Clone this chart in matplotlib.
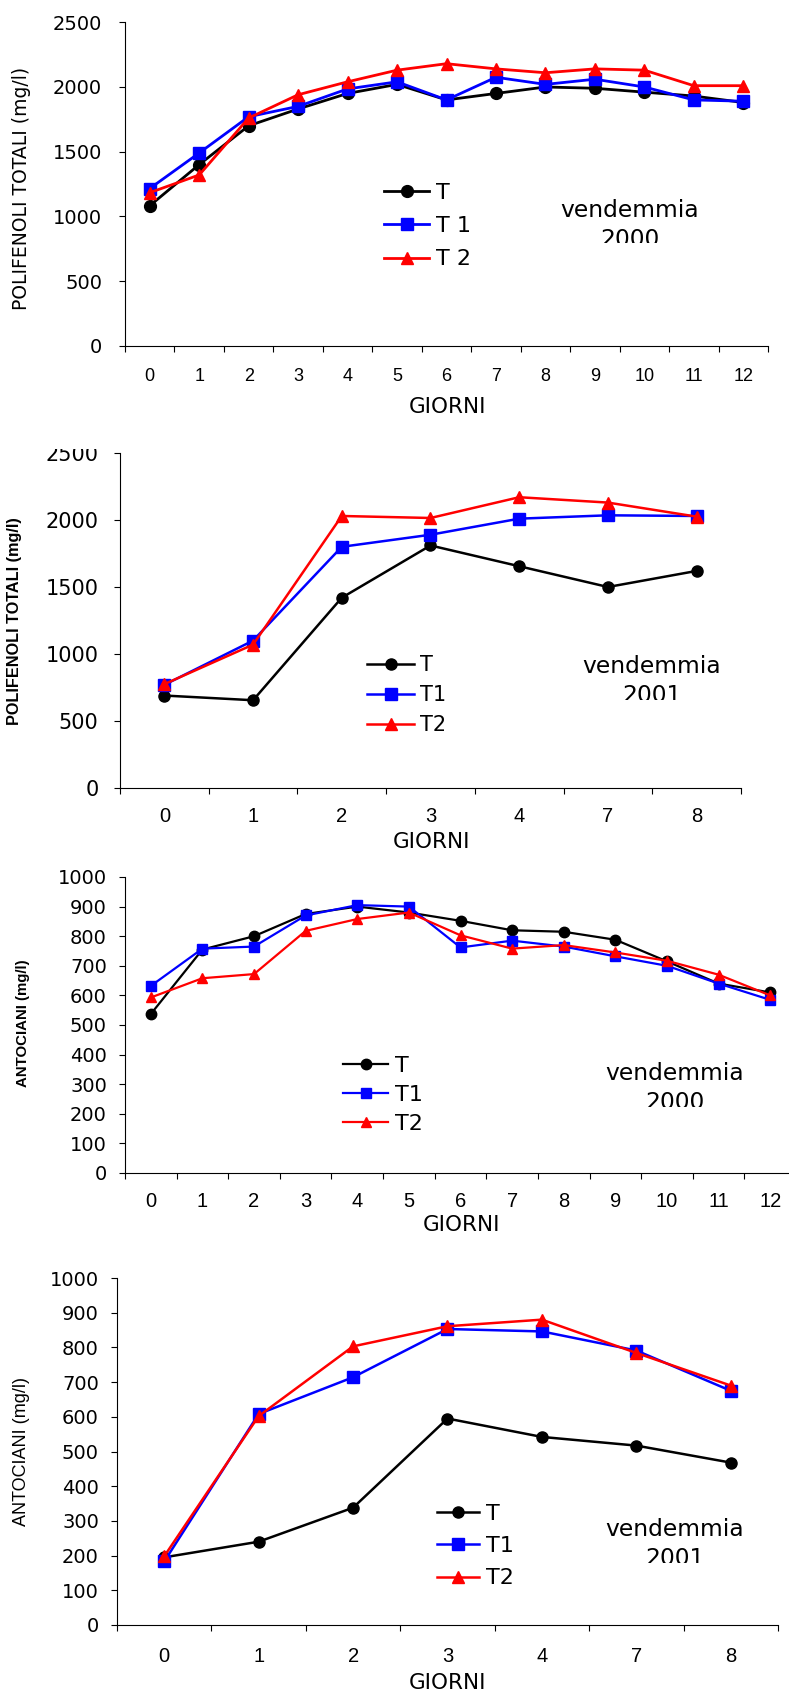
"""Polifenoli totali e antociani nelle vendemmie 2000 e 2001 (four stacked line charts)."""

import matplotlib

matplotlib.use("Agg")
import matplotlib.pyplot as plt
from matplotlib.patches import Rectangle
from matplotlib.transforms import Bbox, TransformedBbox

# ---------------------------------------------------------------- data
GIORNI_2000 = ["0", "1", "2", "3", "4", "5", "6", "7", "8", "9", "10", "11", "12"]
GIORNI_2001 = ["0", "1", "2", "3", "4", "7", "8"]

# polifenoli totali (mg/l), vendemmia 2000
POLI_2000_T = [1082, 1400, 1700, 1830, 1950, 2020, 1900, 1950, 2000, 1990, 1960, 1930, 1880]
POLI_2000_T1 = [1215, 1490, 1770, 1850, 1985, 2040, 1900, 2075, 2020, 2060, 2000, 1900, 1890]
POLI_2000_T2 = [1183, 1320, 1760, 1940, 2040, 2130, 2180, 2140, 2110, 2140, 2130, 2010, 2010]

# polifenoli totali (mg/l), vendemmia 2001
POLI_2001_T = [690, 655, 1420, 1810, 1655, 1500, 1620]
POLI_2001_T1 = [770, 1100, 1800, 1890, 2010, 2035, 2030]
POLI_2001_T2 = [775, 1070, 2030, 2015, 2170, 2130, 2025]

# antociani (mg/l), vendemmia 2000
ANTO_2000_T = [537, 755, 800, 875, 900, 880, 852, 820, 815, 788, 715, 640, 610]
ANTO_2000_T1 = [632, 758, 765, 870, 905, 900, 762, 785, 765, 732, 700, 640, 585]
ANTO_2000_T2 = [593, 658, 672, 818, 858, 880, 803, 758, 770, 745, 717, 670, 600]

# antociani (mg/l), vendemmia 2001
ANTO_2001_T = [195, 240, 338, 595, 542, 517, 468]
ANTO_2001_T1 = [183, 608, 714, 853, 846, 791, 675]
ANTO_2001_T2 = [198, 602, 803, 861, 880, 784, 690]

COLORS = ["#000000", "#0000ff", "#ff0000"]
MARKERS = ["o", "s", "^"]

FIG_W, FIG_H = 789, 1693


def fx(px):
    return px / FIG_W


def fy(py):
    return 1 - py / FIG_H


def draw_panel(fig, days, series, labels, ymax, ystep, ylabel, year, lay):
    """Draw one Excel-style category line chart at pixel position lay['box']."""
    left, top, right, bottom = lay["box"]
    ax = fig.add_axes([fx(left), fy(bottom), (right - left) / FIG_W, (bottom - top) / FIG_H])
    x = list(range(len(days)))
    for values, color, marker, label in zip(series, COLORS, MARKERS, labels):
        ax.plot(x, values, color=color, marker=marker, markersize=lay["ms"],
                linewidth=lay["lw"], label=label)

    ax.set_xlim(-0.5, len(days) - 0.5)
    ax.set_ylim(0, ymax)
    ax.set_xticks(x)
    ax.set_xticklabels(days, family="Liberation Sans", fontsize=lay["xsize"])
    ax.set_xticks([i - 0.5 for i in range(len(days) + 1)], minor=True)
    ax.tick_params(axis="x", which="major", length=0, pad=lay["xpad"])
    ax.tick_params(axis="x", which="minor", length=4, width=0.8, direction="out")
    ax.set_yticks(list(range(0, ymax + 1, ystep)))
    ax.tick_params(axis="y", length=4.5, width=0.8, direction="out",
                   pad=lay["ypad"], labelsize=lay["ytsize"])
    for s in ("top", "right"):
        ax.spines[s].set_visible(False)
    for s in ("left", "bottom"):
        ax.spines[s].set_linewidth(0.8)

    lx, ly = lay["legend"]
    ax.legend(loc="center left", bbox_to_anchor=(fx(lx), fy(ly)),
              bbox_transform=fig.transFigure, frameon=False,
              prop={"family": "DejaVu Sans", "size": lay["lsize"]},
              handlelength=lay["hlen"], handletextpad=0.3,
              labelspacing=lay["lspace"], borderpad=0, borderaxespad=0)

    # "vendemmia / anno" text box, the year cut off at the bottom as in the original
    vx, vb, vcut = lay["year"]
    fig.text(fx(vx), fy(vb), "vendemmia", ha="center", va="baseline",
             fontsize=16.8, family="DejaVu Sans")
    yr = fig.text(fx(vx), fy(vb + 29), year, ha="center", va="baseline",
                  fontsize=16.8, family="DejaVu Sans")
    yr.set_clip_box(TransformedBbox(Bbox([[0, fy(vcut)], [1, 1]]), fig.transFigure))
    yr.set_clip_on(True)

    yx, yy = lay["ylabel_at"]
    fig.text(fx(yx), fy(yy), ylabel, rotation=90, ha="center", va="center",
             family=lay["yfamily"], fontsize=lay["ysize"], fontweight=lay["yweight"])
    gx, gy = lay["xlabel_at"]
    fig.text(fx(gx), fy(gy), "GIORNI", ha="center", va="center",
             family="DejaVu Sans", fontsize=15.5)
    return ax


fig = plt.figure(figsize=(FIG_W / 100, FIG_H / 100), dpi=100)

draw_panel(
    fig, GIORNI_2000, [POLI_2000_T, POLI_2000_T1, POLI_2000_T2], ["T", "T 1", "T 2"],
    2500, 500, "POLIFENOLI TOTALI (mg/l)", "2000",
    {"box": (125, 22.3, 768, 345.7), "lw": 2.0, "ms": 8.5, "xpad": 16, "ypad": 12,
     "xsize": 13, "ytsize": 14, "legend": (384, 226), "lsize": 16,
     "hlen": 2.03, "lspace": 0.6, "year": (630, 217, 243),
     "ylabel_at": (22, 188), "yfamily": "DejaVu Sans", "ysize": 13.5,
     "yweight": "normal", "xlabel_at": (448, 407)},
)
draw_panel(
    fig, GIORNI_2001, [POLI_2001_T, POLI_2001_T1, POLI_2001_T2], ["T", "T1", "T2"],
    2500, 500, "POLIFENOLI TOTALI (mg/l)", "2001",
    {"box": (120, 453, 741, 788), "lw": 1.8, "ms": 8, "xpad": 13.7, "ypad": 11,
     "xsize": 14.5, "ytsize": 15, "legend": (367, 695), "lsize": 15,
     "hlen": 2.26, "lspace": 0.49, "year": (652, 673, 700),
     "ylabel_at": (14.5, 621), "yfamily": "Liberation Sans", "ysize": 11.7,
     "yweight": "bold", "xlabel_at": (431, 842)},
)
draw_panel(
    fig, GIORNI_2000, [ANTO_2000_T, ANTO_2000_T1, ANTO_2000_T2], ["T", "T1", "T2"],
    1000, 100, "ANTOCIANI (mg/l)", "2000",
    {"box": (125, 877, 796, 1173), "lw": 1.6, "ms": 7.5, "xpad": 13.7, "ypad": 8.5,
     "xsize": 14.5, "ytsize": 14, "legend": (343, 1095), "lsize": 16,
     "hlen": 2.03, "lspace": 0.4, "year": (675, 1080, 1107),
     "ylabel_at": (23, 1023), "yfamily": "Liberation Sans", "ysize": 10.8,
     "yweight": "bold", "xlabel_at": (462, 1225)},
)
draw_panel(
    fig, GIORNI_2001, [ANTO_2001_T, ANTO_2001_T1, ANTO_2001_T2], ["T", "T1", "T2"],
    1000, 100, "ANTOCIANI (mg/l)", "2001",
    {"box": (117, 1278, 778, 1625), "lw": 1.8, "ms": 8, "xpad": 16, "ypad": 8.5,
     "xsize": 14.5, "ytsize": 14, "legend": (437, 1546), "lsize": 16,
     "hlen": 1.9, "lspace": 0.56, "year": (675, 1536, 1563),
     "ylabel_at": (22, 1451), "yfamily": "Liberation Sans", "ysize": 13,
     "yweight": "normal", "xlabel_at": (448, 1683)},
)

# the top of the second chart's "2500" label is hidden in the original
fig.add_artist(Rectangle((fx(40), fy(449)), (115 - 40) / FIG_W, (449 - 420) / FIG_H,
                         transform=fig.transFigure, facecolor="white",
                         edgecolor="none", zorder=10))

fig.savefig("out.png", dpi=100)
plt.close(fig)
